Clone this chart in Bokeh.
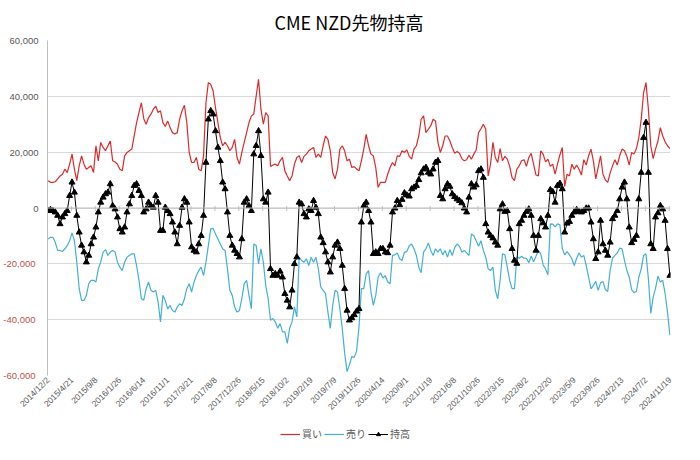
import math
from bokeh.plotting import figure
from bokeh.layouts import column
from bokeh.models import (Range1d, FixedTicker, NumeralTickFormatter, Span, Legend,
                          LegendItem, LinearAxis)
from bokeh.embed import file_html
from bokeh.resources import INLINE

title = "CME NZD先物持高"
tick_labels = ["2014/12/2", "2015/4/21", "2015/9/8", "2016/1/26", "2016/6/14", "2016/11/1",
               "2017/3/21", "2017/8/8", "2017/12/26", "2018/5/15", "2018/10/2", "2019/2/19",
               "2019/7/9", "2019/11/26", "2020/4/14", "2020/9/1", "2021/1/19", "2021/6/8",
               "2021/10/26", "2022/3/15", "2022/8/2", "2022/12/20", "2023/5/9", "2023/9/26",
               "2024/2/13", "2024/7/2", "2024/11/19"]
series_names = ["買い", "売り", "持高"]
weeks_per_label = 20
step = 2  # values read every 2 weeks

buy = [9800, 9200, 9200, 9400, 10400, 11500, 12100, 13900, 12700, 15700,
       19300, 13900, 9800, 15100, 18700, 15700, 13900, 14500, 15100, 12700,
       22300, 16900, 23500, 21700, 20500, 22300, 24000, 16900, 16500, 15700,
       13900, 13300, 18700, 19900, 20500, 21100, 25800, 30600, 34200, 37700,
       32000, 30000, 32400, 33600, 35400, 36500, 34200, 34800, 30600, 29200,
       31200, 28800, 27000, 26500, 27000, 31800, 34800, 36800, 30600, 19900,
       16300, 16300, 18100, 13900, 13300, 18700, 37700, 44900, 44300, 41900,
       35900, 30600, 25200, 22300, 23500, 22300, 20500, 21700, 24600, 18100,
       15700, 19900, 23500, 27000, 30600, 33000, 33600, 40100, 46100, 35400,
       30000, 34200, 33000, 14900, 15400, 15700, 15100, 16900, 18100, 13300,
       11500, 9800, 11500, 15700, 18100, 18700, 16300, 18500, 19300, 20500,
       21100, 21700, 18100, 19300, 18100, 22300, 25800, 24600, 20500, 12700,
       10400, 13900, 21100, 22300, 20500, 16900, 17500, 14500, 14800, 14000,
       13300, 16900, 21100, 26400, 22300, 19300, 18700, 14500, 7400, 9200,
       9200, 9200, 12100, 14500, 16300, 15100, 18700, 18500, 20500, 19900,
       20800, 18500, 17500, 21100, 22300, 25800, 31800, 33000, 27000, 28200,
       29400, 31800, 31200, 23500, 19900, 22300, 25800, 25800, 24000, 21700,
       19600, 20200, 19600, 17700, 16900, 17300, 18900, 17500, 19300, 20800,
       27000, 28400, 30000, 28200, 11500, 15700, 23500, 18100, 16300, 21300,
       16900, 18500, 17500, 14900, 10900, 9800, 13900, 15100, 16900, 17300,
       14900, 18100, 19600, 15700, 11800, 11500, 20500, 19300, 16500, 17500,
       14900, 15700, 12100, 15700, 19000, 21700, 7700, 12100, 11500, 15700,
       13900, 15400, 13900, 11800, 17300, 15400, 18700, 21100, 16900, 10400,
       14500, 18700, 12100, 10100, 9200, 12500, 15100, 17300, 15400, 18700,
       21100, 20500, 18500, 15400, 19900, 19300, 21300, 25200, 31800, 41300,
       44900, 35400, 22300, 17700, 21100, 24000, 28800, 25800, 23700, 22300,
       21300]

sell = [-11100, -10500, -10500, -12300, -15200, -15200, -15600, -14600, -13500, -11700,
        -8900, -11700, -19400, -28900, -33100, -33100, -31300, -27100, -25900, -25900,
        -26500, -21800, -19400, -15800, -14900, -17000, -15800, -15200, -15800, -19400,
        -21200, -22400, -19400, -17600, -17000, -16400, -16400, -20600, -25900, -32500,
        -33000, -28900, -26500, -29500, -30100, -29500, -33700, -40800, -31300, -33100,
        -36100, -34900, -36700, -37300, -35500, -34300, -34900, -32500, -28900, -27100,
        -30100, -26500, -24200, -22400, -21200, -24200, -19400, -13500, -7500, -7300,
        -9300, -11100, -12900, -14600, -15200, -21800, -29500, -31300, -35500, -37300,
        -36700, -32500, -27100, -25900, -31300, -36100, -12900, -13400, -20000, -14600,
        -19400, -27700, -32500, -40200, -39600, -40800, -43100, -41400, -44400, -44400,
        -48500, -43100, -40800, -35400, -39000, -17600, -18800, -19400, -18200, -20600,
        -17600, -19400, -17600, -21800, -28300, -29500, -30700, -37300, -43100, -34900,
        -29500, -30100, -36100, -43100, -52000, -58600, -56200, -53200, -53500, -51200,
        -42600, -28900, -28900, -23600, -22400, -30100, -34900, -31300, -24800, -23200,
        -25100, -24200, -26500, -27100, -17000, -16800, -16100, -18200, -18800, -15800,
        -15600, -13500, -12900, -14600, -17000, -21200, -23200, -15800, -14600, -12500,
        -15200, -17000, -14600, -15800, -14600, -16800, -15200, -17600, -14900, -17000,
        -14200, -12900, -13700, -15800, -15200, -16100, -17000, -9300, -9900, -11700,
        -13700, -11700, -15200, -17600, -21800, -22400, -21200, -29500, -32500, -25900,
        -16400, -16800, -21200, -25900, -28900, -28900, -17600, -18000, -17300, -18000,
        -18000, -19600, -17300, -19300, -17300, -15200, -16400, -20400, -21800, -23900,
        -5700, -5800, -6800, -5700, -6000, -14500, -16800, -15600, -16800, -18200,
        -20600, -18000, -16100, -17600, -17000, -20600, -24800, -29000, -27700, -26300,
        -29500, -26800, -26300, -29200, -29900, -22400, -18000, -17000, -16100, -14400,
        -14600, -18800, -22400, -24800, -29200, -30300, -29900, -24800, -21800, -17000,
        -16400, -25300, -37800, -31900, -28700, -24400, -26500, -25900, -30700, -37300,
        -45600]

net = [-1000, -600, -1000, -1500, -2700, -5700, -3300, -2100, -1000, 4400,
       9200, 5600, -2700, -8700, -13400, -15800, -19400, -17000, -12900, -10500,
       -6900, -1500, 2000, 3800, 5000, 5600, 8600, 800, -400, -3300,
       -7500, -8700, -6900, -1500, 1400, 4400, 8000, 8600, 6200, 4400,
       -1500, -400, 2000, 800, 200, 4400, 2000, -8100, -8100, 200,
       -1000, -2100, -5100, -8700, -12900, -6300, 200, 3200, 2000, -5100,
       -14000, -15200, -15800, -12900, -9900, -2700, 16300, 31800, 34800, 33600,
       27600, 21700, 16900, 9200, 6800, -1500, -9900, -13400, -15200, -16400,
       -17600, -11100, 2000, 3200, 800, -1000, 19300, 22300, 27600, 18700,
       3200, 2000, 5600, -21800, -24200, -23600, -24200, -22700, -24800, -30700,
       -33100, -35500, -29500, -20000, -17600, 2000, 1400, -2100, -3300, -400,
       -1000, 2600, 200, -2100, -10500, -12500, -15800, -19400, -23000, -17600,
       -13400, -12300, -14600, -20600, -28900, -36700, -40200, -39400, -38300, -37000,
       -36100, -5100, 800, 2000, -1000, -5100, -16400, -15800, -16400, -14600,
       -14600, -15800, -16100, -13400, -1500, -100, 2600, 1100, 3000, 5400,
       4600, 4200, 6800, 7400, 8000, 10100, 12500, 13900, 14500, 12700,
       12100, 13900, 16300, 16900, 4400, 3200, 6800, 8600, 7700, 5000,
       4000, 3200, 2600, 1800, -100, -1500, 3800, 8600, 7400, 8200,
       13300, 13900, 10900, -5700, -8700, -9900, -10800, -12300, -13400, -400,
       1400, -1300, -1000, -7500, -14600, -18800, -19900, -5700, -4500, -2700,
       -1300, -400, -2700, -9900, -15200, -9900, -3900, -5400, -6900, -2700,
       6500, 5800, 2000, 8000, 8800, 6800, -8700, -5500, -4900, -2700,
       -1500, -600, -1300, -1500, -1000, -100, -100, -5100, -11100, -18200,
       -15800, -4500, -12900, -15200, -17000, -12300, -3900, -2700, -1000, 3200,
       7400, 9200, 3200, -6900, -12500, -11300, -9900, 3200, 12700, 25200,
       30600, 12700, -12900, -14600, -3300, -1800, 800, -400, -4500, -14600,
       -24200]

y_ticks = [-60000, -40000, -20000, 0, 20000, 40000, 60000]

x = list(range(0, len(buy) * step, step))
tick_idx = [k * weeks_per_label for k in range(len(tick_labels))]
n_weeks = tick_idx[-1] + 1

RED, CYAN, BLACK = "#DA2B2B", "#45B0D5", "#000000"

p = figure(width=684, height=423, output_backend="svg", toolbar_location=None,
           x_range=Range1d(-0.5, n_weeks - 0.5), y_range=Range1d(y_ticks[0], y_ticks[-1]),
           min_border_left=40, min_border_right=14, min_border_top=36, min_border_bottom=48)
p.outline_line_color = None
p.background_fill_color = "white"
p.border_fill_color = "white"

p.title.text = title
p.title.align = "left"
p.title.offset = 227
p.title.text_font = "Noto Sans CJK JP"
p.title.text_font_size = "18px"
p.title.text_font_style = "normal"
p.title.text_color = "#000000"
p.title.standoff = 12

# y axis: non-negative labels grey (nearest axis), negative labels red (second axis)
fmt = NumeralTickFormatter(format="0,0")
ya = p.yaxis[0]
ya.ticker = FixedTicker(ticks=y_ticks)
ya.formatter = fmt
ya.major_label_overrides = {t: " " for t in y_ticks if t < 0}
ya.axis_line_color = "#BFBFBF"
ya.major_tick_out = 0
ya.major_tick_in = 0
ya.minor_tick_line_color = None
ya.axis_label_standoff = 0
ya.major_label_text_color = "#595959"
ya.major_label_text_font = "Liberation Sans"
ya.major_label_text_font_size = "9.5px"
ya.major_label_standoff = 9

yb = LinearAxis(ticker=FixedTicker(ticks=y_ticks), formatter=fmt,
                major_label_overrides={t: " " for t in y_ticks if t >= 0},
                axis_line_color=None, major_tick_line_color=None, minor_tick_line_color=None,
                major_tick_out=0, major_tick_in=0, axis_label_standoff=0,
                major_label_text_color="#C0504D", major_label_text_font="Liberation Sans",
                major_label_text_font_size="9.5px", major_label_standoff=-29)
p.add_layout(yb, "left")

# x axis
p.xaxis.ticker = FixedTicker(ticks=tick_idx)
p.xaxis.major_label_overrides = {t: lab for t, lab in zip(tick_idx, tick_labels)}
p.xaxis.major_label_orientation = math.pi / 4
p.xaxis.axis_line_color = None
p.xaxis.major_tick_line_color = None
p.xaxis.minor_tick_line_color = None
p.xaxis.major_tick_out = 0
p.xaxis.major_tick_in = 0
p.xaxis.axis_label_standoff = 0
p.xaxis.major_label_text_color = "#595959"
p.xaxis.major_label_text_font = "Liberation Sans"
p.xaxis.major_label_text_font_size = "8.5px"
p.xaxis.major_label_standoff = 3

p.xgrid.visible = False
p.ygrid.ticker = FixedTicker(ticks=y_ticks)
p.ygrid.grid_line_color = "#D9D9D9"

p.add_layout(Span(location=0, dimension="width", line_color="#BFBFBF", line_width=1))
marks = [t - 0.5 for t in tick_idx[1:]]
p.segment(x0=marks, x1=marks, y0=[700] * len(marks), y1=[-1100] * len(marks),
          line_color="#BFBFBF", line_width=1)

p.line(x, buy, line_color=RED, line_width=1.2)
p.line(x, sell, line_color=CYAN, line_width=1.2)
p.line(x, net, line_color=BLACK, line_width=1)
p.scatter(x, net, marker="triangle", size=6, fill_color=BLACK, line_color=BLACK)

# legend strip below the chart: same series and styles, viewed outside their data span
q = figure(width=684, height=21, output_backend="svg", toolbar_location=None, title=None,
           x_axis_type=None, y_axis_type=None, x_range=Range1d(-3, -2), y_range=Range1d(0, 1),
           min_border=0)
q.outline_line_color = None
q.grid.visible = False
q.background_fill_color = "white"
q.border_fill_color = "white"
lb = q.line(x, buy, line_color=RED, line_width=1.2)
ls = q.line(x, sell, line_color=CYAN, line_width=1.2)
ln = q.line(x, net, line_color=BLACK, line_width=1)
lm = q.scatter(x, net, marker="triangle", size=6, fill_color=BLACK, line_color=BLACK)
legend = Legend(items=[LegendItem(label=series_names[0], renderers=[lb]),
                       LegendItem(label=series_names[1], renderers=[ls]),
                       LegendItem(label=series_names[2], renderers=[ln, lm])],
                orientation="horizontal", location=(233, 3),
                label_text_font="Noto Sans CJK JP", label_text_font_size="10px",
                label_text_color="#595959", glyph_width=20, glyph_height=10,
                label_standoff=2, spacing=2, padding=2, margin=0,
                border_line_color=None, background_fill_alpha=0)
q.add_layout(legend)

layout = column(p, q, spacing=0)
open("out.html", "w").write(file_html(layout, INLINE))
